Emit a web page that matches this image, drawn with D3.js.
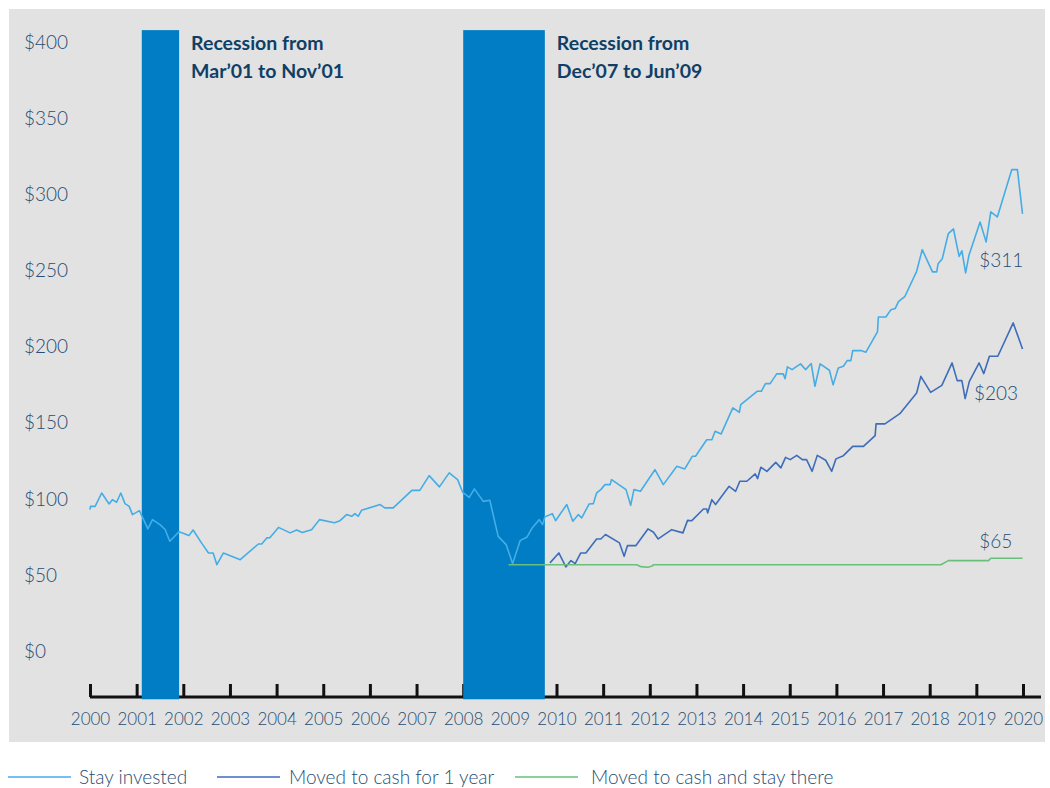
<!DOCTYPE html>
<html>
<head>
<meta charset="utf-8">
<script src="https://cdn.jsdelivr.net/npm/d3@7"></script>
<style>
  body { margin: 0; background: #fff; }
  text { font-family: Lato, "Open Sans", sans-serif; }
</style>
</head>
<body>
<div id="chart"></div>
<script>
// values: [year, dollars]
const stayInvested = [
  [2000.00, 93.1], [2000.01, 95.2], [2000.11, 95.2], [2000.25, 104.0], [2000.41, 96.8],
  [2000.48, 99.6], [2000.57, 97.9], [2000.66, 104.0], [2000.75, 97.0], [2000.84, 95.2],
  [2000.91, 89.8], [2001.06, 92.4], [2001.24, 80.4], [2001.34, 86.5], [2001.50, 83.2],
  [2001.61, 80.0], [2001.71, 72.3], [2001.91, 78.6], [2002.12, 76.0], [2002.21, 79.7],
  [2002.39, 71.2], [2002.54, 64.6], [2002.64, 64.6], [2002.72, 56.9], [2002.86, 64.6],
  [2003.22, 60.2], [2003.61, 70.5], [2003.68, 70.5], [2003.79, 74.5], [2003.86, 74.7],
  [2004.04, 81.4], [2004.29, 77.8], [2004.43, 79.7], [2004.55, 78.0], [2004.75, 79.9],
  [2004.92, 86.5], [2005.24, 84.5], [2005.36, 85.8], [2005.50, 89.8], [2005.61, 88.7],
  [2005.68, 90.4], [2005.75, 88.7], [2005.82, 92.6], [2006.22, 96.4], [2006.32, 94.2],
  [2006.50, 94.2], [2006.90, 105.7], [2007.07, 105.7], [2007.27, 115.4], [2007.49, 108.0],
  [2007.70, 117.2], [2007.88, 112.8], [2007.99, 104.4], [2008.13, 101.1], [2008.24, 106.7],
  [2008.43, 98.5], [2008.57, 99.2], [2008.75, 75.5], [2008.92, 70.1], [2009.06, 57.6],
  [2009.22, 72.7], [2009.37, 75.1], [2009.47, 80.6], [2009.63, 86.5], [2009.70, 83.2],
  [2009.75, 88.3], [2009.91, 90.4], [2009.98, 85.8], [2010.22, 96.4], [2010.35, 85.4],
  [2010.47, 89.8], [2010.54, 87.6], [2010.70, 96.8], [2010.79, 97.0], [2010.86, 104.0],
  [2010.95, 106.2], [2011.04, 109.5], [2011.15, 109.5], [2011.18, 112.8], [2011.49, 106.2],
  [2011.59, 95.9], [2011.66, 106.2], [2011.80, 105.1], [2012.11, 119.3], [2012.29, 109.5],
  [2012.58, 121.5], [2012.75, 119.8], [2012.91, 128.1], [2012.98, 128.1], [2013.22, 139.0],
  [2013.33, 139.0], [2013.40, 144.5], [2013.53, 142.8], [2013.78, 159.9], [2013.92, 157.0],
  [2013.95, 162.0], [2014.30, 170.8], [2014.39, 170.8], [2014.48, 175.8], [2014.58, 175.8],
  [2014.72, 182.2], [2014.86, 182.2], [2014.90, 179.1], [2014.95, 186.8], [2015.05, 185.0],
  [2015.23, 188.8], [2015.34, 185.0], [2015.46, 189.0], [2015.54, 174.1], [2015.65, 188.8],
  [2015.85, 184.6], [2015.93, 175.0], [2016.04, 186.1], [2016.15, 187.2], [2016.23, 190.9],
  [2016.31, 190.9], [2016.35, 197.5], [2016.53, 197.5], [2016.63, 196.4], [2016.88, 209.8],
  [2016.90, 219.6], [2017.06, 219.6], [2017.17, 224.4], [2017.26, 225.1], [2017.33, 229.7],
  [2017.47, 233.2], [2017.72, 249.6], [2017.84, 263.8], [2018.06, 249.2], [2018.15, 249.2],
  [2018.18, 254.6], [2018.27, 257.9], [2018.40, 274.4], [2018.51, 277.4], [2018.63, 259.4],
  [2018.69, 263.1], [2018.77, 248.5], [2018.84, 259.9], [2019.08, 282.0], [2019.21, 268.9],
  [2019.31, 288.6], [2019.45, 285.3], [2019.76, 316.4], [2019.88, 316.4], [2019.99, 287.3]
];

const cashOneYear = [
  [2009.86, 58.1], [2010.05, 64.6], [2010.20, 55.4], [2010.31, 59.6], [2010.40, 57.6],
  [2010.52, 64.6], [2010.63, 64.6], [2010.86, 73.8], [2010.95, 73.8], [2011.05, 76.7],
  [2011.35, 71.2], [2011.45, 62.4], [2011.52, 69.4], [2011.70, 69.4], [2011.96, 80.4],
  [2012.08, 78.2], [2012.18, 73.8], [2012.47, 79.9], [2012.71, 77.8], [2012.81, 86.0],
  [2012.90, 85.8], [2013.15, 93.5], [2013.22, 93.5], [2013.24, 90.9], [2013.33, 99.6],
  [2013.41, 96.4], [2013.70, 108.4], [2013.84, 105.1], [2013.93, 111.7], [2014.08, 111.7],
  [2014.26, 116.5], [2014.31, 113.4], [2014.38, 120.9], [2014.51, 118.2], [2014.70, 124.1],
  [2014.81, 120.5], [2014.91, 127.4], [2015.01, 125.9], [2015.15, 128.7], [2015.27, 125.9],
  [2015.36, 125.9], [2015.48, 118.2], [2015.59, 128.7], [2015.77, 125.5], [2015.90, 118.2],
  [2015.99, 126.4], [2016.15, 128.5], [2016.35, 134.6], [2016.58, 134.6], [2016.83, 141.7],
  [2016.85, 149.4], [2017.04, 149.4], [2017.36, 156.1], [2017.72, 169.7], [2017.81, 180.6],
  [2018.02, 170.1], [2018.26, 174.7], [2018.48, 189.4], [2018.59, 177.8], [2018.69, 177.8],
  [2018.76, 166.0], [2018.85, 177.3], [2019.06, 189.4], [2019.16, 182.4], [2019.28, 193.8],
  [2019.46, 193.8], [2019.79, 215.7], [2019.99, 198.6]
];

const cashStay = [
  [2008.97, 56.9], [2011.72, 56.9], [2011.81, 55.6], [2011.96, 55.2], [2012.05, 56.0],
  [2012.08, 56.9], [2018.24, 56.9], [2018.40, 59.6], [2019.26, 59.6], [2019.31, 61.1],
  [2019.99, 61.1]
];

const recessions = [
  { start: 2001.11, end: 2001.91, lines: ["Recession from", "Mar\u201901 to Nov\u201901"] },
  { start: 2008.00, end: 2009.75, lines: ["Recession from", "Dec\u201907 to Jun\u201909"] }
];

const endLabels = [
  { text: "$311", year: 2019.06, value: 252.5 },
  { text: "$203", year: 2018.95, value: 164.8 },
  { text: "$65", year: 2019.06, value: 67.9 }
];

const yTicks = [0, 50, 100, 150, 200, 250, 300, 350, 400];
const xTicks = d3.range(2000, 2021);

const seriesNames = ["Stay invested", "Moved to cash for 1 year", "Moved to cash and stay there"];
const seriesColors = ["#45ade6", "#3e6dba", "#68c07a"];

let w = 1050,
    h = 788;

let labelColor = "#264d73";

let svg = d3.select("#chart")
            .append("svg")
            .attr("width", w)
            .attr("height", h);

// grey panel behind the chart
svg.append("rect")
   .attr("x", 9)
   .attr("y", 9)
   .attr("width", 1036)
   .attr("height", 733)
   .attr("fill", "#e2e2e2");

let x = d3.scaleLinear()
          .domain([2000, 2020])
          .range([90, 1023]);

let y = d3.scaleLinear()
          .domain([-30, 400])
          .range([697, 42.3]);

// y labels, no axis line
svg.selectAll(".ylab")
   .data(yTicks)
   .enter()
   .append("text")
   .attr("class", "ylab")
   .attr("x", 24)
   .attr("y", d => y(d) + 6.5)
   .attr("font-size", 19)
   .attr("font-weight", 300)
   .attr("fill", labelColor)
   .text(d => `$${d}`);

// x axis: thick baseline with ticks pointing up
let xAxis = d3.axisBottom(x)
              .tickValues(xTicks)
              .tickFormat(d3.format("d"))
              .tickSizeInner(-13)
              .tickSizeOuter(0)
              .tickPadding(13);

let gx = svg.append("g")
            .attr("transform", `translate(0, ${y(-30)})`)
            .call(xAxis);

gx.select(".domain")
  .attr("d", `M${x(2000)},0H1041`)
  .attr("stroke", "#111")
  .attr("stroke-width", 3);

gx.selectAll(".tick line")
  .attr("stroke", "#111")
  .attr("stroke-width", 3);

gx.selectAll(".tick text")
  .attr("font-size", 17)
  .attr("font-weight", 300)
  .attr("font-family", "Lato, sans-serif")
  .attr("fill", labelColor)
  .attr("dy", "0.9em");

// recession bars
svg.selectAll(".recession")
   .data(recessions)
   .enter()
   .append("rect")
   .attr("class", "recession")
   .attr("x", d => x(d.start))
   .attr("width", d => x(d.end) - x(d.start))
   .attr("y", y(408))
   .attr("height", y(-31.5) - y(408))
   .attr("fill", "#007dc5");

let notes = svg.selectAll(".note")
               .data(recessions)
               .enter()
               .append("text")
               .attr("class", "note")
               .attr("x", d => x(d.end) + 12)
               .attr("y", 50)
               .attr("font-size", 19.5)
               .attr("font-weight", "bold")
               .attr("fill", "#0f3f66");

notes.selectAll("tspan")
     .data(d => d.lines.map(t => ({ t, x: x(d.end) + 12 })))
     .enter()
     .append("tspan")
     .attr("x", d => d.x)
     .attr("dy", (d, i) => i ? 27.5 : 0)
     .text(d => d.t);

// lines
let line = d3.line()
             .x(d => x(d[0]))
             .y(d => y(d[1]));

[stayInvested, cashOneYear, cashStay].forEach((series, i) => {
  svg.append("path")
     .datum(series)
     .attr("d", line)
     .attr("fill", "none")
     .attr("stroke", seriesColors[i])
     .attr("stroke-width", 1.6)
     .attr("stroke-linejoin", "round");
});

// ending values
svg.selectAll(".endlab")
   .data(endLabels)
   .enter()
   .append("text")
   .attr("class", "endlab")
   .attr("x", d => x(d.year))
   .attr("y", d => y(d.value))
   .attr("font-size", 19)
   .attr("font-weight", 300)
   .attr("fill", labelColor)
   .text(d => d.text);

// legend
let legendX = [8, 217, 515];
let legendGap = [71, 72, 76];

let legend = svg.selectAll(".legend")
                .data(seriesNames)
                .enter()
                .append("g")
                .attr("class", "legend")
                .attr("transform", (d, i) => `translate(${legendX[i]}, 777)`);

legend.append("line")
      .attr("x1", 0)
      .attr("x2", 63)
      .attr("stroke", (d, i) => seriesColors[i])
      .attr("stroke-width", 1.6);

legend.append("text")
      .attr("x", (d, i) => legendGap[i])
      .attr("y", 7)
      .attr("font-size", 19)
      .attr("font-weight", 300)
      .attr("fill", labelColor)
      .text(d => d);
</script>
</body>
</html>
